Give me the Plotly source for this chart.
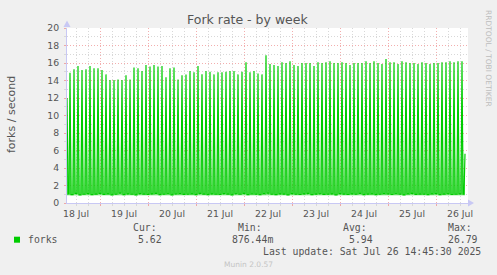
import plotly.graph_objects as go
import pandas as pd

# ---------------- data ----------------
first_time = "2025-07-18 07:30"
first_value = 12.0
peak_start = "2025-07-18 09:00"   # one peak every 2 hours
trough_start = "2025-07-18 08:00"  # one trough every 2 hours
last_time = "2025-07-26 14:30"
last_value = 5.62

peaks = [
    14.90, 15.30, 15.66, 15.20, 15.30, 15.66, 15.40, 15.40, 15.20, 14.70,
    14.06, 14.06, 14.10, 14.06, 14.60, 14.10, 15.50, 15.40, 15.10, 15.77,
    15.60, 15.77, 15.60, 15.66, 14.36, 15.40, 15.50, 14.10, 14.60, 14.70,
    15.10, 14.95, 15.66, 14.70, 15.10, 15.00, 14.70, 14.95, 14.95, 15.00,
    15.10, 15.10, 14.70, 15.00, 16.08, 14.95, 15.10, 14.80, 14.70, 16.90,
    15.90, 15.77, 15.66, 16.08, 16.00, 16.20, 15.77, 15.66, 16.00, 16.00,
    16.00, 15.66, 16.08, 16.00, 16.08, 16.20, 16.00, 16.00, 16.08, 16.00,
    15.77, 16.00, 16.00, 16.00, 16.20, 16.00, 16.20, 16.00, 15.90, 16.46,
    16.08, 16.08, 15.90, 16.20, 16.08, 16.00, 16.00, 15.90, 16.08, 16.00,
    15.90, 16.00, 16.00, 16.08, 16.08, 16.20, 16.08, 16.20, 16.20,
]
troughs = [
    1.05, 0.95, 1.10, 0.92, 1.00, 1.08, 0.95, 1.02, 1.10, 0.98,
    1.05, 0.93, 1.00, 1.12, 0.96, 1.04, 1.00, 0.94, 1.08, 1.02,
    0.97, 1.05, 1.10, 0.95, 1.00, 1.06, 0.92, 1.03, 1.08, 0.98,
    1.00, 1.05, 0.96, 1.10, 1.02, 0.95, 1.04, 1.00, 0.97, 1.08,
    1.02, 0.94, 1.06, 1.00, 1.10, 0.96, 1.03, 1.00, 0.95, 1.07,
    1.12, 1.00, 0.96, 1.05, 1.02, 0.94, 1.08, 1.00, 0.97, 1.04,
    1.10, 0.95, 1.02, 1.06, 0.98, 1.00, 1.05, 0.93, 1.08, 1.02,
    0.97, 1.04, 1.00, 1.10, 0.96, 1.02, 1.05, 0.95, 1.00, 1.08,
    1.03, 0.97, 1.06, 1.00, 0.94, 1.05, 1.10, 0.98, 1.02, 1.00,
    0.96, 1.04, 1.08, 0.95, 1.02, 1.06, 0.97, 1.00, 1.05, 1.02,
]

stat_labels = ["Cur:", "Min:", "Avg:", "Max:"]
stat_values = ["5.62", "876.44m", "5.94", "26.79"]
series_name = "forks"
title_text = "Fork rate - by week"
y_title = "forks / second"
last_update = "Last update: Sat Jul 26 14:45:30 2025"
x_range = ["2025-07-18 07:30", "2025-07-26 16:00"]

# ---------------- series assembly ----------------
t_first = pd.Timestamp(first_time)
t_last = pd.Timestamp(last_time)
peak_times = pd.date_range(peak_start, periods=len(peaks), freq="2h")
trough_times = pd.date_range(trough_start, periods=len(troughs), freq="2h")

# coarse (hourly) version -> soft fill under the spikes
coarse = pd.concat([
    pd.DataFrame({"t": [t_first], "v": [first_value]}),
    pd.DataFrame({"t": trough_times, "v": troughs}),
    pd.DataFrame({"t": peak_times, "v": peaks}),
    pd.DataFrame({"t": [t_last], "v": [last_value]}),
]).sort_values("t")

# fine (30 min) version -> sharp spike outline: each trough level holds
# for the half hour either side of its sample time
half = pd.Timedelta("30min")
flat = pd.DataFrame({
    "t": list(trough_times - half) + list(trough_times) + list(trough_times + half),
    "v": list(troughs) * 3,
})
flat = flat[(flat["t"] > t_first) & (flat["t"] < t_last)]
fine = pd.concat([
    pd.DataFrame({"t": [t_first], "v": [first_value]}),
    flat,
    pd.DataFrame({"t": peak_times, "v": peaks}),
    pd.DataFrame({"t": [t_last], "v": [last_value]}),
]).sort_values("t")

# ---------------- layout helpers ----------------
W, H = 497, 275
L, R, T, B = 67, 468, 28, 203


def px(x):
    return (x - L) / (R - L)


def py(y):
    return (B - y) / (B - T)


GREEN = "#00CC00"
TXT = "#555555"
AXIS = "#C8C8F4"
MAJ = "rgba(235,120,120,0.6)"
MIN = "#D8D8D8"

fig = go.Figure()
fig.add_trace(go.Scatter(
    x=coarse["t"], y=coarse["v"], mode="lines",
    line=dict(color="rgba(0,0,0,0)", width=0),
    fill="tozeroy",
    fillgradient=dict(
        type="vertical", start=0, stop=16,
        colorscale=[[0, "rgba(0,204,0,0)"], [0.05, "rgba(0,204,0,0)"],
                    [0.06, "rgba(0,204,0,0.5)"], [0.35, "rgba(0,204,0,0.3)"],
                    [0.7, "rgba(0,204,0,0.1)"], [0.85, "rgba(0,204,0,0)"],
                    [1, "rgba(0,204,0,0)"]],
    ),
    hoverinfo="skip", showlegend=False,
))
fig.add_trace(go.Scatter(
    x=fine["t"], y=fine["v"], mode="lines",
    line=dict(color=GREEN, width=1.2),
    hoverinfo="skip", showlegend=False,
))

fig.update_layout(
    width=W, height=H,
    margin=dict(l=L, r=W - R, t=T, b=H - B, pad=0),
    paper_bgcolor="#F0F0F0", plot_bgcolor="white",
    showlegend=False,
    font=dict(family="DejaVu Sans", color=TXT, size=9.3),
)

fig.update_xaxes(
    type="date", range=x_range,
    tick0="2025-07-18", dtick=86400000, ticklabelmode="period",
    tickformat="%d %b", tickfont=dict(size=9.3, color=TXT),
    showgrid=True, gridcolor=MAJ, griddash="1px,2px", gridwidth=1,
    ticks="outside", ticklen=2, tickcolor=MAJ,
    minor=dict(dtick=6 * 3600000, showgrid=True, gridcolor=MIN,
               griddash="1px,2px", ticks="outside", ticklen=2, tickcolor=MIN),
    showline=True, linecolor=AXIS, linewidth=1, zeroline=False,
    fixedrange=True,
)
fig.update_yaxes(
    range=[0, 20], dtick=2, tick0=0,
    tickfont=dict(size=9.3, color=TXT),
    showgrid=True, gridcolor=MAJ, griddash="1px,2px", gridwidth=1,
    ticks="outside", ticklen=2, tickcolor=MAJ,
    minor=dict(dtick=1, showgrid=True, gridcolor=MIN, griddash="1px,2px",
               ticks="outside", ticklen=2, tickcolor=MIN),
    showline=True, linecolor=AXIS, linewidth=1, zeroline=False,
    ticklabelstandoff=3,
)

ann = []


def text(x, y, s, size, color=TXT, family="DejaVu Sans", xanchor="left", angle=0):
    ann.append(dict(x=px(x), y=py(y), xref="paper", yref="paper", text=s,
                    showarrow=False, xanchor=xanchor, yanchor="middle",
                    textangle=angle, borderpad=0,
                    font=dict(size=size, color=color, family=family)))


text(247.5, 19.5, title_text, 12.5, xanchor="center")
text(11, 115, y_title, 11, xanchor="center", angle=-90)
text(488, 58, "RRDTOOL / TOBI OETIKER", 7.5, color="#BDBDBD", xanchor="center", angle=90)

MONO = "DejaVu Sans Mono"
stat_label_x = [131.7, 236.7, 342.3, 446.7]
stat_value_x = [137.3, 231.0, 348.3, 446.7]
for lab, xx in zip(stat_labels, stat_label_x):
    text(xx, 227.7, lab, 9.8, family=MONO)
text(26.7, 239.5, series_name, 9.8, family=MONO)
for val, xx in zip(stat_values, stat_value_x):
    text(xx, 239.5, val, 9.8, family=MONO)
text(261.7, 251.7, last_update, 9.8, family=MONO)
text(248, 264, "Munin 2.0.57", 7.5, color="#C4C4C4", xanchor="center")

fig.update_layout(annotations=ann)

shapes = [
    # legend colour box
    dict(type="rect", xref="paper", yref="paper",
         x0=px(14), x1=px(20), y0=py(242.7), y1=py(236.7),
         fillcolor=GREEN, line=dict(width=0)),
    # y-axis arrow
    dict(type="path", xref="paper", yref="paper",
         path=f"M {px(63.5)} {py(27)} L {px(70.5)} {py(27)} L {px(67)} {py(20.5)} Z",
         fillcolor=AXIS, line=dict(width=0)),
    # x-axis arrow
    dict(type="path", xref="paper", yref="paper",
         path=f"M {px(468)} {py(199.5)} L {px(468)} {py(206.5)} L {px(474)} {py(203)} Z",
         fillcolor=AXIS, line=dict(width=0)),
]
fig.update_layout(shapes=shapes)

fig.write_html("out.html")
